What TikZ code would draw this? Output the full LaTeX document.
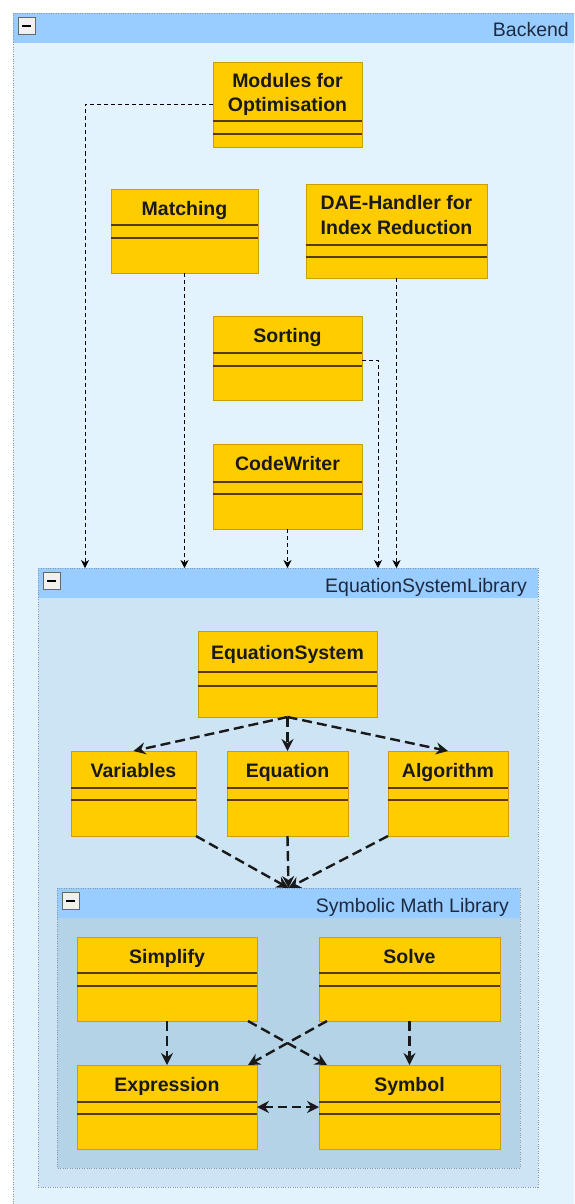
\documentclass[tikz,border=0pt]{standalone}
\usepackage{fontspec}
\setmainfont{Liberation Sans}
\usetikzlibrary{arrows.meta,calc}
\definecolor{bkbg}{HTML}{E3F3FD}
\definecolor{eslbg}{HTML}{CDE4F4}
\definecolor{symbg}{HTML}{B5D3E7}
\definecolor{hdr}{HTML}{99CCFF}
\definecolor{gold}{HTML}{FFCC00}
\definecolor{goldedge}{HTML}{C9A000}
\definecolor{sepc}{HTML}{5A3A0C}
\definecolor{dotc}{HTML}{8A98A8}
\definecolor{hdrtxt}{HTML}{1E2A40}
\tikzset{
  clsbox/.style={rectangle, fill=gold, draw=goldedge, line width=0.8pt, inner sep=0pt, outer sep=0pt},
  clstext/.style={font=\fontsize{19.5}{24.5}\selectfont\bfseries, text=black!90, align=center, inner sep=0pt, text height=14pt, text depth=0pt},
  sepline/.style={draw=sepc, line width=1.3pt},
  contbox/.style={rectangle, inner sep=0pt, outer sep=0pt},
  dotborder/.style={draw=dotc, line width=0.7pt, dash pattern=on 0.8pt off 1.6pt},
  hdrtext/.style={font=\fontsize{19.5}{24}\selectfont, text=hdrtxt, inner sep=0pt, anchor=base east},
  minusicon/.style={rectangle, minimum size=17pt, inner sep=0pt, fill=black!6, draw=black!60, line width=0.8pt,
    path picture={\fill[black] ($(path picture bounding box.center)+(-4.5pt,-1.4pt)$) rectangle ($(path picture bounding box.center)+(4.5pt,1.4pt)$);}},
  thinarrow/.style={draw=black, line width=0.9pt, dash pattern=on 4pt off 3pt, -{Stealth[length=8pt,width=8pt,inset=2.5pt]}},
  thickarrow/.style={draw=black!90, line width=2.4pt, dash pattern=on 10pt off 5pt, -{Stealth[length=12pt,width=12pt,inset=4pt]}},
  dblarrow/.style={draw=black!90, line width=2.4pt, dash pattern=on 9pt off 5pt, {Stealth[length=12pt,width=12pt,inset=4pt]}-{Stealth[length=12pt,width=12pt,inset=4pt]}},
}
% name, left, top, right, bottom, fill, label
\newcommand\mycontainer[7]{%
  \node[contbox, fill=#6, minimum width={(#4-#2)*1pt}, minimum height={(#5-#3)*1pt}] (#1) at ({(#2+#4)/2},{(#3+#5)/2}) {};
  \fill[hdr] (#1.north west) rectangle ($(#1.north east)+(0,30)$);
  \draw[dotborder] (#1.north west) rectangle (#1.south east);
  \node[minusicon] (#1-icon) at ($(#1.north west)+(13.5,13)$) {};
  \node[hdrtext] (#1-label) at ($(#1.north east)+(-11,24)$) {#7};
}
% name, left, top, right, bottom, sep1, sep2, text offset, text
\newcommand\umlbox[9]{%
  \node[clsbox, minimum width={(#4-#2)*1pt}, minimum height={(#5-#3)*1pt}] (#1) at ({(#2+#4)/2},{(#3+#5)/2}) {};
  \draw[sepline] (#2,#6) -- (#4,#6) (#2,#7) -- (#4,#7);
  \node[clstext] (#1-t) at ({(#2+#4)/2},{#3+#8}) {#9};
}
\begin{document}
\begin{tikzpicture}[x=1pt,y=-1pt]
\useasboundingbox (0,0) rectangle (574,1204);
\clip (0,0) rectangle (574,1204);
\fill[white] (0,0) rectangle (574,1204);

% containers
\mycontainer{backend}{13}{13}{580}{1215}{bkbg}{Backend}
\mycontainer{esl}{38}{568}{538}{1187}{eslbg}{EquationSystemLibrary}
\mycontainer{sym}{57}{888}{520}{1168}{symbg}{Symbolic Math Library}

% backend classes
\umlbox{mod}{213}{62}{362}{147}{121}{134}{43}{Modules for\\Optimisation}
\umlbox{match}{111}{189}{258}{273}{225}{238}{19}{Matching}
\umlbox{dae}{306}{184}{487}{278}{245}{257}{43}{DAE-Handler for\\Index Reduction}
\umlbox{sort}{213}{316}{362}{400}{353}{366}{19}{Sorting}
\umlbox{cw}{213}{444}{362}{529}{482}{494}{19}{CodeWriter}

% equation system library classes
\umlbox{eqs}{198}{631}{377}{717}{672}{686}{21}{EquationSystem}
\umlbox{var}{71}{751}{196}{836}{788}{800}{19}{Variables}
\umlbox{eq}{227}{751}{348}{836}{788}{800}{19}{Equation}
\umlbox{alg}{388}{751}{508}{836}{788}{800}{19}{Algorithm}

% symbolic math classes
\umlbox{simp}{77}{937}{257}{1021}{973}{986}{19}{Simplify}
\umlbox{solve}{319}{937}{500}{1021}{973}{986}{19}{Solve}
\umlbox{expr}{77}{1065}{257}{1149}{1102}{1114}{19}{Expression}
\umlbox{symb}{319}{1065}{500}{1149}{1102}{1114}{19}{Symbol}

% backend dependencies
\draw[thinarrow] (mod.west) -| ($(esl.north west)+(47,0)$);
\draw[thinarrow] (match.south) -- (match.south |- esl.north);
\draw[thinarrow] (dae.south) -- (dae.south |- esl.north);
\draw[thinarrow] (cw.south) -- (cw.south |- esl.north);
\draw[thinarrow] ([yshift=-2pt]sort.east) -| ($(esl.north west)+(340,0)$);

% equation system dependencies
\draw[thickarrow] (eqs.south) -- (var.north);
\draw[thickarrow] (eqs.south) -- (eq.north);
\draw[thickarrow] (eqs.south) -- (alg.north);
\draw[thickarrow] (var.south east) -- (sym.north);
\draw[thickarrow] (eq.south) -- (sym.north);
\draw[thickarrow] (alg.south west) -- (sym.north);

% symbolic math dependencies
\draw[thickarrow] (simp.south) -- (expr.north);
\draw[thickarrow] (solve.south) -- (symb.north);
\draw[thickarrow] ([xshift=-9pt]simp.south east) -- ([xshift=8pt]symb.north west);
\draw[thickarrow] ([xshift=8pt]solve.south west) -- ([xshift=-9pt]expr.north east);
\draw[dblarrow] (expr.east) -- (symb.west);
\end{tikzpicture}
\end{document}
